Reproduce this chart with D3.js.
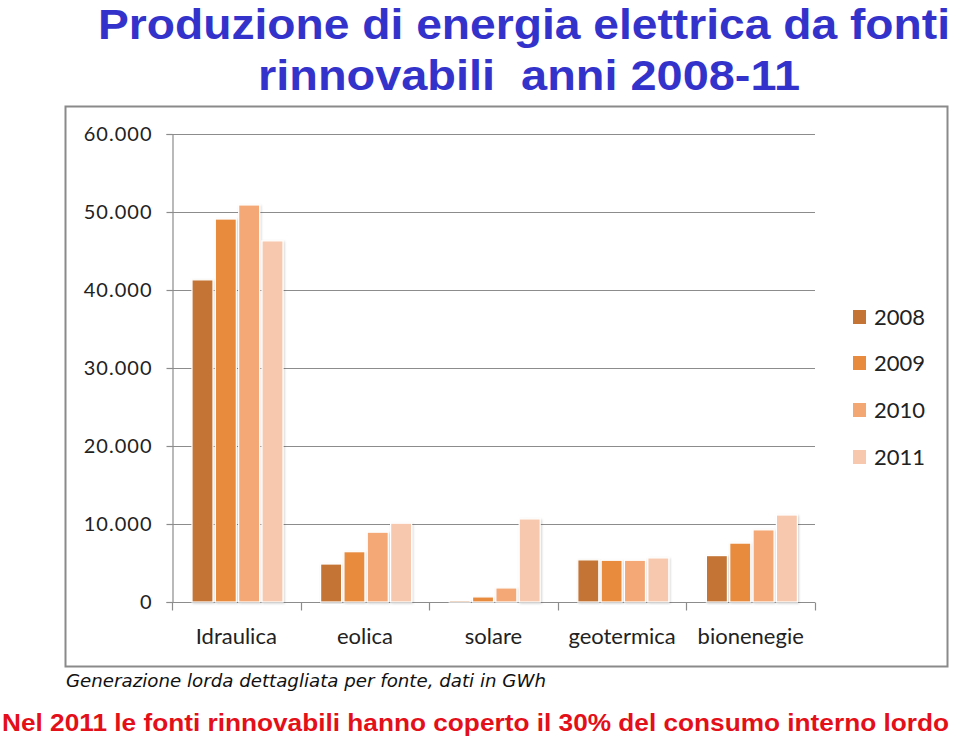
<!DOCTYPE html>
<html>
<head>
<meta charset="utf-8">
<script src="https://cdn.jsdelivr.net/npm/d3@7"></script>
<style>
  html, body { margin: 0; padding: 0; background: #fff; }
  svg { display: block; }
</style>
</head>
<body>
<script>
// ---- data ----
const categories = ["Idraulica", "eolica", "solare", "geotermica", "bionenegie"];
const years = ["2008", "2009", "2010", "2011"];
const values2008 = [41300, 4870, 190, 5400, 5950];
const values2009 = [49100, 6450, 650, 5350, 7550];
const values2010 = [50900, 8950, 1800, 5350, 9250];
const values2011 = [46300, 10100, 10650, 5650, 11150];
const yTicks = [0, 10000, 20000, 30000, 40000, 50000, 60000];
const colors = ["#C47535", "#E88B3E", "#F3A874", "#F7C8AD"];

const series = [values2008, values2009, values2010, values2011];

const W = 960, H = 741;
const svg = d3.select("body").append("svg").attr("width", W).attr("height", H);

// title
const titleColor = "#3333CC";
svg.append("text").attr("x", 98).attr("y", 38.5)
  .attr("font-family", "'Liberation Sans', Arial, sans-serif").attr("font-weight", "bold")
  .attr("font-size", 42).attr("fill", titleColor)
  .attr("textLength", 852).attr("lengthAdjust", "spacingAndGlyphs")
  .text("Produzione di energia elettrica da fonti");
svg.append("text").attr("x", 258).attr("y", 90)
  .attr("font-family", "'Liberation Sans', Arial, sans-serif").attr("font-weight", "bold")
  .attr("font-size", 43).attr("fill", titleColor)
  .attr("textLength", 542).attr("lengthAdjust", "spacingAndGlyphs")
  .attr("xml:space", "preserve")
  .text("rinnovabili  anni 2008-11");

// frame
svg.append("rect").attr("x", 65.5).attr("y", 106.5).attr("width", 882).attr("height", 560)
  .attr("fill", "#fff").attr("stroke", "#8a8a8a").attr("stroke-width", 2);

// scales
const x0 = d3.scaleBand().domain(categories).range([172, 815]);
const x1 = d3.scaleBand().domain(years).range([20, 111]).paddingInner(0.1);
const y = d3.scaleLinear().domain([0, 60000]).range([602, 134]);

const fmt = v => d3.format(",")(v).replace(/,/g, ".");

// gridlines
svg.append("g").selectAll("line").data(yTicks.filter(t => t > 0)).join("line")
  .attr("x1", 172).attr("x2", 815)
  .attr("y1", d => Math.round(y(d)) + 0.5).attr("y2", d => Math.round(y(d)) + 0.5)
  .attr("stroke", "#8c8c8c").attr("stroke-width", 1.2);

// y axis
const yAxis = svg.append("g").attr("transform", "translate(172.5,0)")
  .call(d3.axisLeft(y).tickValues(yTicks).tickSize(6).tickPadding(14).tickFormat(fmt));
yAxis.select(".domain").attr("stroke", "#8c8c8c").attr("stroke-width", 1.2);
yAxis.selectAll(".tick line").attr("stroke", "#8c8c8c").attr("stroke-width", 1.2);
yAxis.selectAll(".tick text").attr("font-family", "Lato, 'Open Sans', sans-serif")
  .attr("font-size", 20).attr("letter-spacing", 1).attr("fill", "#222");

// x axis
const xAxis = svg.append("g").attr("transform", "translate(0,602.5)");
xAxis.append("line").attr("x1", 172).attr("x2", 815).attr("stroke", "#8c8c8c").attr("stroke-width", 1.2);
const bounds = categories.map(c => x0(c)).concat([815]);
xAxis.selectAll("line.tk").data(bounds).join("line").attr("class", "tk")
  .attr("x1", d => Math.round(d) + 0.5).attr("x2", d => Math.round(d) + 0.5)
  .attr("y1", 0).attr("y2", 8).attr("stroke", "#8c8c8c").attr("stroke-width", 1.2);
xAxis.selectAll("text").data(categories).join("text")
  .attr("x", d => x0(d) + x0.bandwidth() / 2).attr("y", 41)
  .attr("text-anchor", "middle")
  .attr("font-family", "Lato, 'Open Sans', sans-serif").attr("font-size", 22).attr("fill", "#222")
  .text(d => d);

// shadow filter
const defs = svg.append("defs");
const f = defs.append("filter").attr("id", "sh").attr("x", "-20%").attr("y", "-5%").attr("width", "140%").attr("height", "110%");
f.append("feDropShadow").attr("dx", 1).attr("dy", 1).attr("stdDeviation", 1.2).attr("flood-color", "#000").attr("flood-opacity", 0.18);

// bars
const groups = svg.append("g").selectAll("g").data(categories).join("g")
  .attr("transform", d => `translate(${x0(d)},0)`);
groups.selectAll("rect").data((c, ci) => years.map((yr, yi) => ({ yr, yi, v: series[yi][ci] })))
  .join("rect")
  .attr("x", d => x1(d.yr)).attr("width", x1.bandwidth())
  .attr("y", d => y(d.v)).attr("height", d => y(0) - y(d.v))
  .attr("fill", d => colors[d.yi])
  .attr("stroke", "#fff").attr("stroke-width", 1.2)
  .attr("filter", "url(#sh)");

// legend
const legendY = [317, 363, 410, 457];
const lg = svg.append("g").selectAll("g").data(years).join("g")
  .attr("transform", (d, i) => `translate(853,${legendY[i]})`);
lg.append("rect").attr("x", 0).attr("y", -7).attr("width", 13).attr("height", 14)
  .attr("fill", (d, i) => colors[i]);
lg.append("text").attr("x", 21).attr("y", 8)
  .attr("font-family", "Lato, 'Open Sans', sans-serif").attr("font-size", 22).attr("fill", "#222")
  .text(d => d);

// caption
svg.append("text").attr("x", 66).attr("y", 687)
  .attr("font-family", "'DejaVu Sans', Verdana, sans-serif").attr("font-style", "italic")
  .attr("font-size", 18).attr("fill", "#111")
  .attr("textLength", 480).attr("lengthAdjust", "spacingAndGlyphs")
  .text("Generazione lorda dettagliata per fonte, dati in GWh");

// bottom note
svg.append("text").attr("x", 2).attr("y", 731)
  .attr("font-family", "'Liberation Sans', Arial, sans-serif").attr("font-weight", "bold")
  .attr("font-size", 24).attr("fill", "#E3101A")
  .attr("textLength", 947).attr("lengthAdjust", "spacingAndGlyphs")
  .text("Nel 2011 le fonti rinnovabili hanno coperto il 30% del consumo interno lordo");
</script>
</body>
</html>
